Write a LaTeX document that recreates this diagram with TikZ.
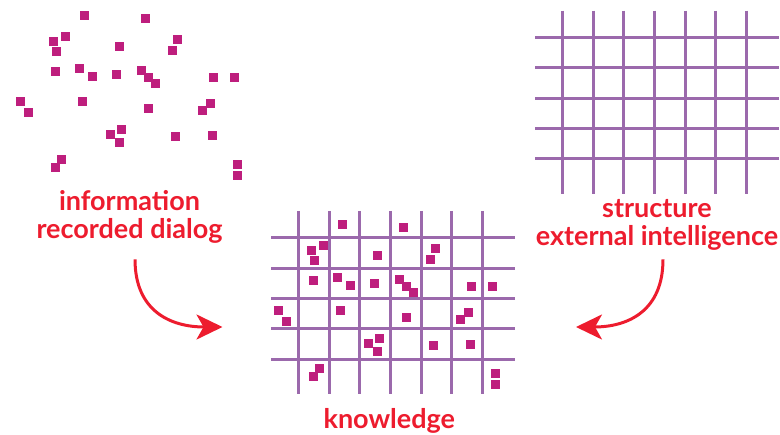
\documentclass[tikz,border=0pt]{standalone}
\usepackage{fontspec}
\setmainfont{Lato}
\usetikzlibrary{arrows.meta}

\definecolor{dotpink}{RGB}{190,30,125}
\definecolor{gridpurple}{RGB}{155,105,172}
\definecolor{wordred}{RGB}{237,28,46}

\begin{document}
\begin{tikzpicture}[x=1pt,y=-1pt,word/.style={text=wordred, font=\fontsize{27}{27.5}\selectfont\bfseries, align=center, inner sep=0pt},gridline/.style={gridpurple, line width=3pt},flow/.style={wordred, line width=3pt, -{Stealth[length=26pt,width=25pt,inset=7pt]}},pics/lattice/.style={code={\foreach \i in {0,...,6} \draw[gridline] (27.7+30.6*\i,0) -- (27.7+30.6*\i,183.3);\foreach \j in {0,...,4} \draw[gridline] (0,26.7+30.4*\j) -- (244.3,26.7+30.4*\j);}}]
\useasboundingbox (0,0) rectangle (780,435);
% scattered bits of information, once loose and once on the grid
\foreach \dx/\dy in {0/0,258/209}
  \foreach \x/\y in {84.3/15.3,145.3/18.3,65.3/36.3,53.3/41.3,56.3/51.3,119.3/46.3,177.3/39.3,172.3/50.3,55.3/71.3,79.3/68.3,92.3/76.3,116.3/74.3,141.3/70.3,148.3/77.3,155.3/83.3,213.3/77.3,234.3/77.3,20.3/101.3,28.3/112.3,82.3/101.3,148.3/108.3,210.3/103.3,202.3/110.3,121.3/129.3,110.3/134.3,119.3/142.3,175.3/136.3,212.3/135.3,61.3/159.3,55.3/167.3,237.3/164.3,237.3/175.3}
    \fill[dotpink] (\x+\dx-4.5,\y+\dy-4.5) rectangle ++(9,9);
\pic at (535,10.7) {lattice};
\pic at (271,211) {lattice};
\node[word, anchor=base] (info) at (129.5,238.3) {information\\recorded dialog};
\node[word, anchor=base] (struct) at (657,245.5) {structure\\external intelligence};
\node[word, anchor=base] (know) at (389.3,428.3) {knowledge};
\coordinate (kleft) at (222.5,327);
\coordinate (kright) at (576,327);
\draw[flow] ([shift={(5.5,16)}]info.south) to[out=-90, in=180, looseness=1.2] (kleft);
\draw[flow] ([shift={(6,8.8)}]struct.south) to[out=-90, in=0, looseness=1.2] (kright);
\end{tikzpicture}
\end{document}
